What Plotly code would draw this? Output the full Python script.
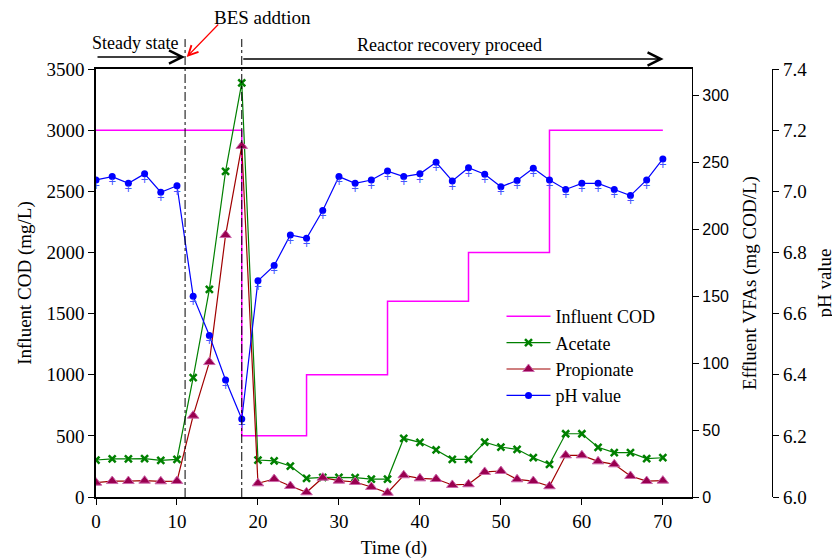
import plotly.graph_objects as go

# ---- data ----
days = list(range(0, 72, 2))

acetate = [27.6, 28.4, 28.4, 28.6, 27.4, 28.1, 89, 155, 243, 309,
           27.6, 26.9, 23.1, 13.9, 14.7, 14.7, 14.4, 13.4, 13.4, 43.8,
           40.8, 35.1, 28.1, 28.1, 41.0, 37.3, 35.6, 29.3, 24.4, 47.2,
           47.2, 37.1, 33.1, 33.1, 28.6, 29.3]

propionate = [10.7, 11.9, 11.9, 12.2, 11.7, 11.9, 60.7, 100.7, 195.5, 262,
              10.2, 13.4, 8.2, 3.5, 14.4, 12.2, 11.2, 7.5, 3.2, 16.2,
              13.9, 13.4, 9.0, 9.5, 18.7, 19.4, 13.2, 11.9, 8.0, 31.1,
              31.1, 26.6, 24.4, 15.7, 11.9, 12.2]

ph = [7.037, 7.048, 7.026, 7.057, 6.997, 7.018, 6.657, 6.528, 6.383, 6.255,
      6.707, 6.757, 6.857, 6.846, 6.937, 7.048, 7.026, 7.037, 7.066, 7.048,
      7.057, 7.095, 7.034, 7.077, 7.056, 7.015, 7.035, 7.075, 7.037, 7.006,
      7.026, 7.026, 7.006, 6.986, 7.037, 7.106]

cod_days = [0, 18, 26, 36, 46, 56, 70]
cod_vals = [3000, 500, 1000, 1600, 2000, 3000, 3000]

bes_day = 11
recovery_day = 18

SERIF = "Liberation Serif"
SANS = "Liberation Sans"

fig = go.Figure()

fig.add_trace(go.Scatter(
    x=cod_days, y=cod_vals, name="Influent COD", mode="lines",
    line=dict(color="#FF00FF", width=1.5, shape="hv"), yaxis="y"))

fig.add_trace(go.Scatter(
    x=days, y=acetate, name="Acetate", mode="lines+markers",
    line=dict(color="#008000", width=1.2),
    marker=dict(symbol="x-thin", size=7, line=dict(color="#008000", width=2.5)),
    yaxis="y2"))

fig.add_trace(go.Scatter(
    x=days, y=propionate, name="Propionate", mode="lines+markers",
    line=dict(color="#A00000", width=1.2),
    marker=dict(symbol="triangle-up", size=10, color="#990050",
                line=dict(color="#CC66AA", width=1)),
    yaxis="y2"))

fig.add_trace(go.Scatter(
    x=days, y=ph, name="pH value", mode="lines+markers",
    line=dict(color="#0000FF", width=1.2),
    marker=dict(symbol="circle", size=7, color="#0000FF"),
    yaxis="y3"))

fig.add_trace(go.Scatter(
    x=days, y=ph, mode="text", text=["+"] * len(days),
    textposition="bottom center",
    textfont=dict(family=SANS, size=13, color="#4455FF"),
    showlegend=False, hoverinfo="skip", yaxis="y3"))

shapes = []
for d in (bes_day, recovery_day):
    shapes.append(dict(type="line", xref="x", yref="paper",
                       x0=d, x1=d, y0=0, y1=1.07,
                       line=dict(color="black", width=1, dash="dashdot")))

annotations = [
    dict(x=bes_day, y=1.028, xref="x", yref="paper",
         ax=0, ay=0, axref="x", ayref="pixel", text="", showarrow=True,
         arrowhead=5, arrowsize=2, arrowwidth=1.3, arrowcolor="black"),
    dict(x=70.1, y=1.0234, xref="x", yref="paper",
         ax=recovery_day, ay=0, axref="x", ayref="pixel", text="", showarrow=True,
         arrowhead=5, arrowsize=2, arrowwidth=1.3, arrowcolor="black"),
    dict(x=11.2, y=1.028, xref="x", yref="paper",
         ax=33, ay=-34, text="", showarrow=True,
         arrowhead=5, arrowsize=1.6, arrowwidth=1.2, arrowcolor="red"),
    dict(x=4.8, y=1.061, xref="x", yref="paper", text="Steady state",
         xanchor="center", yanchor="middle", showarrow=False,
         font=dict(family=SERIF, size=18, color="black")),
    dict(x=43.7, y=1.056, xref="x", yref="paper", text="Reactor recovery proceed",
         xanchor="center", yanchor="middle", showarrow=False,
         font=dict(family=SERIF, size=18, color="black")),
    dict(x=20.6, y=1.121, xref="x", yref="paper", text="BES addtion",
         xanchor="center", yanchor="middle", showarrow=False,
         font=dict(family=SERIF, size=19, color="black")),
]

fig.update_layout(
    width=832, height=551,
    margin=dict(l=88, r=40, t=61, b=62, autoexpand=False),
    paper_bgcolor="white", plot_bgcolor="white",
    font=dict(family=SERIF, size=19, color="black"),
    showlegend=True,
    legend=dict(x=0.576, y=0.465, xanchor="left", yanchor="top",
                bgcolor="rgba(0,0,0,0)", font=dict(family=SERIF, size=18),
                itemwidth=44, tracegroupgap=0),
    xaxis=dict(domain=[0, 0.8466], range=[0, 73.6], tickvals=list(range(0, 80, 10)),
               showline=True, linecolor="black", linewidth=1.5, mirror=True,
               ticks="outside", ticklen=6, tickcolor="black", showgrid=False,
               zeroline=False, automargin=False,
               tickfont=dict(family=SERIF, size=19),
               title=dict(text="Time (d)", standoff=12,
                          font=dict(family=SERIF, size=19))),
    yaxis=dict(range=[0, 3500], dtick=500, showline=True, linecolor="black",
               linewidth=1.5, ticks="outside", ticklen=6, tickcolor="black",
               showgrid=False, zeroline=False, automargin=False,
               tickfont=dict(family=SERIF, size=19),
               title=dict(text="Influent COD (mg/L)", standoff=10,
                          font=dict(family=SERIF, size=19))),
    yaxis2=dict(range=[0, 319.4], dtick=50, overlaying="y", side="right",
                anchor="x", showline=True, linecolor="black", linewidth=1.2,
                ticks="outside", ticklen=6, tickcolor="black", showgrid=False,
                zeroline=False, automargin=False,
                tickfont=dict(family=SANS, size=16),
                title=dict(text="Effluent VFAs (mg COD/L)", standoff=14,
                           font=dict(family=SERIF, size=19))),
    yaxis3=dict(range=[6.0, 7.4], dtick=0.2, tickformat=".1f", overlaying="y",
                side="right", anchor="free", position=0.9602, showline=True,
                linecolor="black", linewidth=1.2, ticks="outside", ticklen=6,
                tickcolor="black", showgrid=False, zeroline=False,
                automargin=False,
                tickfont=dict(family=SERIF, size=19),
                title=dict(text="pH value", standoff=11,
                           font=dict(family=SERIF, size=19))),
    shapes=shapes,
    annotations=annotations,
)

fig.write_html("out.html")
